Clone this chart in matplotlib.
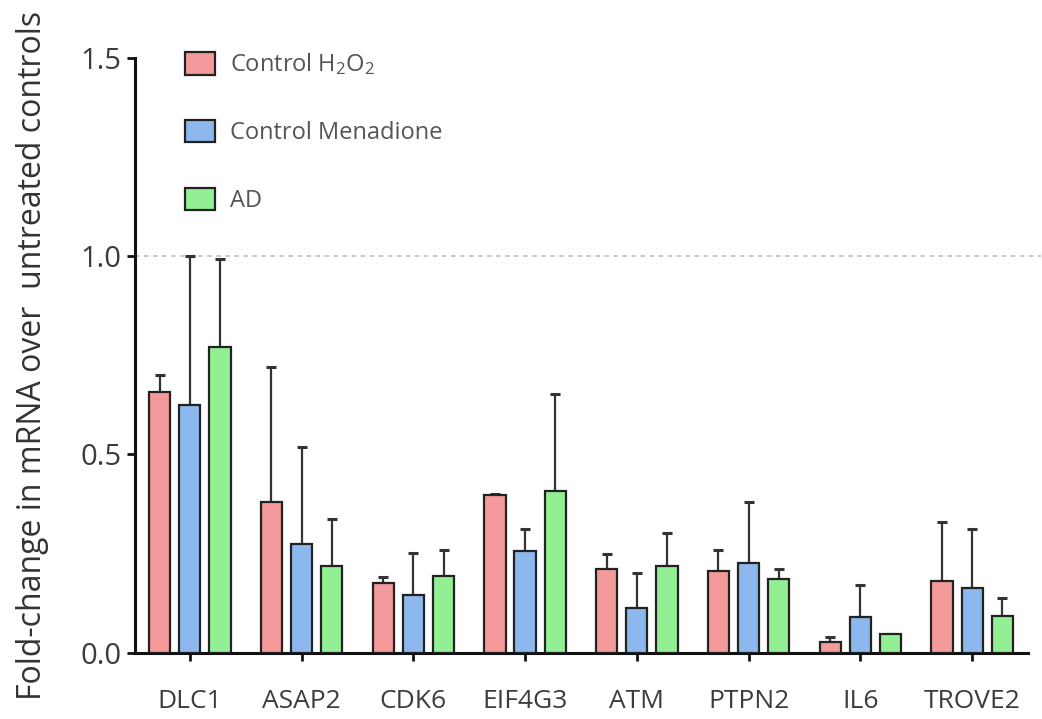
import matplotlib
matplotlib.use("Agg")
import matplotlib.pyplot as plt
from matplotlib.patches import Patch
import numpy as np

plt.rcParams['font.family'] = ['Open Sans', 'DejaVu Sans']
plt.rcParams['mathtext.fontset'] = 'custom'
plt.rcParams['mathtext.rm'] = 'Open Sans'
plt.rcParams['mathtext.it'] = 'Open Sans'

# data
genes = ["DLC1", "ASAP2", "CDK6", "EIF4G3", "ATM", "PTPN2", "IL6", "TROVE2"]
h2o2 = [0.657, 0.380, 0.175, 0.397, 0.210, 0.206, 0.028, 0.181]
h2o2_err = [0.044, 0.341, 0.016, 0.003, 0.040, 0.052, 0.012, 0.149]
mena = [0.625, 0.275, 0.145, 0.257, 0.114, 0.226, 0.089, 0.164]
mena_err = [0.375, 0.245, 0.107, 0.054, 0.086, 0.154, 0.083, 0.147]
ad = [0.770, 0.219, 0.194, 0.407, 0.219, 0.185, 0.047, 0.092]
ad_err = [0.222, 0.117, 0.064, 0.246, 0.083, 0.027, 0.0, 0.047]

labels = ["Control H$_2$O$_2$", "Control Menadione", "AD"]
colors = ["#f49a9b", "#8db8ee", "#93ef93"]

fig = plt.figure(figsize=(10.42, 7.19), dpi=100)
ax = fig.add_axes([0.1296, 0.0922, 0.857, 0.8273])

x = np.arange(len(genes))
width = 0.19
offset = 0.27
series = [(h2o2, h2o2_err), (mena, mena_err), (ad, ad_err)]
for i, (vals, errs) in enumerate(series):
    pos = x + (i - 1) * offset
    ax.errorbar(pos, vals, yerr=[np.zeros(len(vals)), errs], fmt='none',
                ecolor='#333333', elinewidth=1.6, capsize=3.6, capthick=2.2, zorder=2)
    ax.bar(pos, vals, width=width, color=colors[i], edgecolor='#222222',
           linewidth=1.6, zorder=3)

ax.axhline(1.0, xmin=0.0, xmax=1.015, color='#c4c4c4', linestyle=(0, (2.5, 2.5)),
           linewidth=1.3, clip_on=False, zorder=1)

ax.set_xlim(-0.49, 7.5)
ax.set_ylim(0, 1.5)
ax.set_yticks([0.0, 0.5, 1.0, 1.5])
ax.set_yticklabels(["0.0", "0.5", "1.0", "1.5"])
ax.set_xticks(x)
ax.set_xticklabels(genes)

for s in ['top', 'right']:
    ax.spines[s].set_visible(False)
for s in ['left', 'bottom']:
    ax.spines[s].set_linewidth(2.2)
    ax.spines[s].set_color('#111111')

ax.tick_params(axis='y', length=6, width=2, color='#111111', pad=4,
               labelsize=21, labelcolor='#3c3c3c')
ax.tick_params(axis='x', length=6, width=2, color='#111111', pad=20,
               labelsize=19, labelcolor='#3c3c3c')

ax.set_ylabel("Fold-change in mRNA over  untreated controls", fontsize=23,
              color='#333333')
ax.yaxis.set_label_coords(-0.096, 0.5)

handles = [Patch(facecolor=c, edgecolor='#222222', linewidth=1.6) for c in colors]
ax.legend(handles, labels, loc='upper left', bbox_to_anchor=(0.166, 0.945),
          bbox_transform=fig.transFigure, frameon=False, fontsize=17,
          handlelength=1.3, handleheight=1.1, labelspacing=1.8, handletextpad=0.6,
          borderpad=0, labelcolor='#555555')

fig.savefig("out.png", dpi=100)
